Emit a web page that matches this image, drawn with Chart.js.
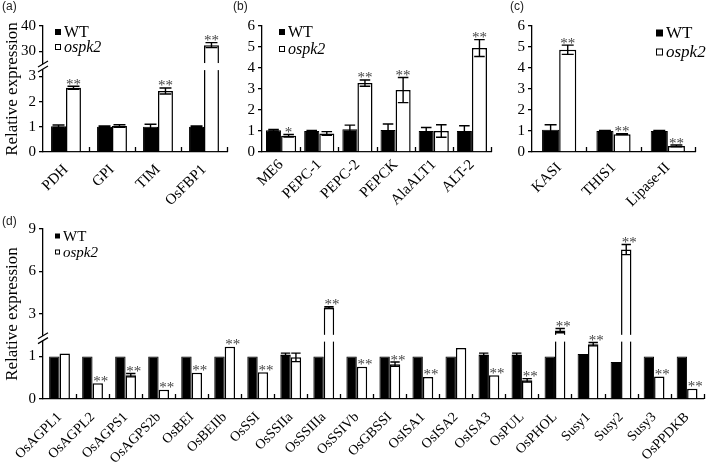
<!DOCTYPE html>
<html><head><meta charset="utf-8">
<script src="https://cdn.jsdelivr.net/npm/chart.js@4.4.0/dist/chart.umd.min.js"></script>
<style>
html,body{margin:0;padding:0;background:#fff}
body{width:709px;height:465px;overflow:hidden;position:relative}
canvas{position:absolute}
</style></head><body>
<canvas id="ca" width="232" height="230" style="left:0;top:0"></canvas>
<canvas id="cb" width="268" height="230" style="left:230px;top:0"></canvas>
<canvas id="cc" width="204" height="230" style="left:505px;top:0"></canvas>
<canvas id="cd" width="709" height="251" style="left:0;top:214px"></canvas>
<script>
// ---------- DATA ----------
const seriesNames = ['WT', 'ospk2'];

const aCategories = ['PDH', 'GPI', 'TIM', 'OsFBP1'];
const aWT = [1.02, 1.0, 1.0, 1.0];
const aWTErr = [0.05, 0.03, 0.1, 0.03];
const aMut = [2.55, 1.03, 2.42, 32.4];
const aMutErr = [0.06, 0.05, 0.12, 1.0];
const aSig = ['**', '', '**', '**'];
const aTickValues = [0, 1, 2, 3, 30, 40];
const aTickLabels = ['0', '1', '2', '3', '30', '40'];

const bCategories = ['ME6', 'PEPC-1', 'PEPC-2', 'PEPCK', 'AlaALT1', 'ALT-2'];
const bWT = [1.03, 1.0, 1.08, 1.05, 1.0, 1.0];
const bWTErr = [0.04, 0.03, 0.2, 0.28, 0.17, 0.25];
const bMut = [0.77, 0.88, 3.28, 2.95, 1.0, 4.95];
const bMutErr = [0.06, 0.09, 0.15, 0.6, 0.3, 0.4];
const bSig = ['*', '', '**', '**', '', '**'];

const cCategories = ['KASI', 'THIS1', 'Lipase-II'];
const cWT = [1.06, 1.0, 1.0];
const cWTErr = [0.24, 0.03, 0.03];
const cMut = [4.87, 0.85, 0.29];
const cMutErr = [0.22, 0.02, 0.04];
const cSig = ['**', '**', '**'];

const dCategories = ['OsAGPL1', 'OsAGPL2', 'OsAGPS1', 'OsAGPS2b', 'OsBEI', 'OsBEIIb', 'OsSSI', 'OsSSIIa', 'OsSSIIIa', 'OsSSIVb', 'OsGBSSI', 'OsISA1', 'OsISA2', 'OsISA3', 'OsPUL', 'OsPHOL', 'Susy1', 'Susy2', 'Susy3', 'OsPPDKB'];
const dWT = [1.0, 1.0, 1.0, 1.0, 1.0, 1.0, 1.0, 1.05, 1.0, 1.0, 1.0, 1.0, 1.0, 1.05, 1.05, 1.0, 1.06, 0.87, 1.0, 1.0];
const dWTErr = [0, 0, 0, 0, 0, 0, 0, 0.03, 0, 0, 0, 0, 0, 0.03, 0.03, 0, 0, 0, 0, 0];
const dMut = [1.07, 0.37, 0.56, 0.22, 0.62, 1.23, 0.63, 0.98, 3.45, 0.76, 0.82, 0.52, 1.2, 0.56, 0.44, 1.83, 1.29, 7.55, 0.53, 0.24];
const dMutErr = [0, 0, 0.04, 0, 0, 0, 0, 0.1, 0.06, 0, 0.05, 0, 0, 0, 0.04, 0.15, 0.04, 0.36, 0, 0];
const dSig = ['', '**', '**', '**', '**', '**', '**', '', '**', '**', '**', '**', '', '**', '**', '**', '**', '**', '**', '**'];
const dTickValues = [0, 1, 3, 6, 9];
const dTickLabels = ['0', '1', '3', '6', '9'];

// ---------- broken-axis mappings ----------
const mapA = v => (v <= 3.4 ? v : 4 + (v - 30) / 10);
const mapD = v => (v <= 1.5 ? v : 2 + (v - 3) / 3);
const mapLin = v => v;

const SERIF = '"Liberation Serif", "Times New Roman", serif';

const decor = {
  id: 'decor',
  afterDatasetsDraw(chart, args, o) {
    const ctx = chart.ctx, xs = chart.scales.x, ys = chart.scales.y, ca = chart.chartArea;
    ctx.save();
    // gaps in broken bars
    if (o.gap) {
      const gTop = ys.getPixelForValue(o.gap[1]), gBot = ys.getPixelForValue(o.gap[0]);
      chart.data.datasets.forEach((ds, di) => {
        chart.getDatasetMeta(di).data.forEach((bar, i) => {
          if (ds.data[i] > o.gap[1]) {
            ctx.fillStyle = '#fff';
            ctx.fillRect(bar.x - bar.width / 2 - 2, gTop, bar.width + 4, gBot - gTop);
          }
        });
      });
    }
    // error bars
    ctx.strokeStyle = '#000';
    ctx.lineWidth = 1.4;
    o.raw.forEach((vals, di) => {
      const meta = chart.getDatasetMeta(di);
      vals.forEach((v, i) => {
        const e = o.err[di][i];
        if (!e) return;
        const bar = meta.data[i];
        const yt = ys.getPixelForValue(o.map(v + e)), yb = ys.getPixelForValue(o.map(v - e));
        const hw = bar.width * o.cap;
        ctx.beginPath();
        ctx.moveTo(bar.x, yt); ctx.lineTo(bar.x, yb);
        ctx.moveTo(bar.x - hw, yt); ctx.lineTo(bar.x + hw, yt);
        ctx.moveTo(bar.x - hw, yb); ctx.lineTo(bar.x + hw, yb);
        ctx.stroke();
      });
    });
    // significance stars
    ctx.font = o.starSize + 'px ' + SERIF;
    ctx.fillStyle = '#444';
    ctx.textAlign = 'center';
    ctx.textBaseline = 'alphabetic';
    const meta1 = chart.getDatasetMeta(1);
    o.sig.forEach((s, i) => {
      if (!s) return;
      const bar = meta1.data[i];
      const v = o.raw[1][i], e = o.err[1][i];
      const top = Math.min(bar.y, ys.getPixelForValue(o.map(v + e)));
      ctx.fillText(s, bar.x + o.starDx, top - o.starGap + o.starSize * 0.3);
    });
    // x tick marks (between categories, pointing up)
    const n = chart.data.labels.length;
    const cw = (xs.right - xs.left) / n;
    ctx.strokeStyle = '#000';
    ctx.lineWidth = 1.3;
    ctx.beginPath();
    for (let i = 1; i <= n; i++) {
      const bx = Math.round(xs.left + i * cw) + 0.5;
      ctx.moveTo(bx, ca.bottom); ctx.lineTo(bx, ca.bottom - 5);
    }
    ctx.stroke();
    // axis break symbol
    if (o.gap) {
      const gTop = ys.getPixelForValue(o.gap[1]), gBot = ys.getPixelForValue(o.gap[0]);
      const L = ca.left;
      ctx.fillStyle = '#fff';
      ctx.fillRect(L - 2, gTop + 1, 4, gBot - gTop - 2);
      ctx.beginPath();
      [gTop + 1, gBot - 1].forEach(yy => { ctx.moveTo(L - 5, yy + 3); ctx.lineTo(L + 5, yy - 3); });
      ctx.lineWidth = 1.2;
      ctx.stroke();
    }
    // legend
    const lg = o.legend;
    ctx.textAlign = 'left';
    ctx.textBaseline = 'middle';
    seriesNames.forEach((name, k) => {
      const cy = lg.y + k * lg.dy;
      if (k === 0) { ctx.fillStyle = '#000'; ctx.fillRect(lg.x, cy - lg.sq / 2, lg.sq, lg.sq); }
      else { ctx.fillStyle = '#fff'; ctx.fillRect(lg.x, cy - lg.sq / 2, lg.sq, lg.sq); ctx.strokeStyle = '#000'; ctx.lineWidth = 1; ctx.strokeRect(lg.x + 0.5, cy - lg.sq / 2 + 0.5, lg.sq - 1, lg.sq - 1); }
      ctx.fillStyle = '#000';
      ctx.font = (k === 1 ? 'italic ' : '') + lg.fs + 'px ' + SERIF;
      ctx.fillText(name, lg.x + lg.sq + 3, cy + 1);
    });
    // panel label
    ctx.font = '12px "Liberation Sans", Arial, sans-serif';
    ctx.fillStyle = '#222';
    ctx.textBaseline = 'top';
    ctx.fillText(o.label.text, o.label.x, o.label.y);
    ctx.restore();
  }
};

function makeChart(id, cfg) {
  const ticksCfg = cfg.tickValues
    ? {
        afterBuildTicks: s => { s.ticks = cfg.tickValues.map(v => ({ value: cfg.map(v) })); },
        ticks: { callback: (val, idx) => cfg.tickLabels[idx], font: { family: SERIF, size: 15 }, color: '#000', padding: 3 }
      }
    : { ticks: { stepSize: 1, font: { family: SERIF, size: 15 }, color: '#000', padding: 3 } };
  return new Chart(document.getElementById(id), {
    type: 'bar',
    data: {
      labels: cfg.categories,
      datasets: [
        { label: seriesNames[0], data: cfg.wt.map(cfg.map), backgroundColor: '#000', borderColor: '#000', borderWidth: 1,
          categoryPercentage: cfg.catPct, barPercentage: 1 },
        { label: seriesNames[1], data: cfg.mut.map(cfg.map), backgroundColor: '#fff', borderColor: '#000', borderWidth: 1.5,
          categoryPercentage: cfg.catPct, barPercentage: 1 }
      ]
    },
    options: {
      responsive: false,
      animation: false,
      layout: { padding: cfg.padding },
      plugins: {
        legend: { display: false },
        tooltip: { enabled: false },
        decor: {
          raw: [cfg.wt, cfg.mut], err: [cfg.wtErr, cfg.mutErr], sig: cfg.sig, map: cfg.map,
          gap: cfg.gap, cap: cfg.cap, starSize: 15, starDx: cfg.starDx, starGap: 2,
          legend: cfg.legend, label: cfg.label
        }
      },
      scales: {
        x: {
          grid: { display: false, drawTicks: false },
          border: { color: '#000', width: 1.3 },
          ticks: { minRotation: 45, maxRotation: 45, autoSkip: false, font: { family: SERIF, size: cfg.xfs }, color: '#000', padding: cfg.xpad },
          afterFit: s => { s.height = cfg.xHeight; }
        },
        y: Object.assign({
          min: 0, max: cfg.ymax,
          grid: { drawOnChartArea: false, drawTicks: true, tickLength: 4, color: '#000', lineWidth: 1.3 },
          border: { color: '#000', width: 1.3 },
          title: cfg.ytitle ? { display: true, text: 'Relative expression', font: { family: SERIF, size: 17 }, color: '#000', padding: { top: 2, bottom: 0 } } : { display: false },
          afterFit: s => { s.width = cfg.yWidth; }
        }, ticksCfg)
      }
    },
    plugins: [decor]
  });
}

makeChart('ca', {
  categories: aCategories, wt: aWT, mut: aMut, wtErr: aWTErr, mutErr: aMutErr, sig: aSig,
  map: mapA, tickValues: aTickValues, tickLabels: aTickLabels, ymax: 5, gap: [3.25, 3.53],
  catPct: 0.65, cap: 0.4, starDx: 0, xfs: 15, xpad: 9, xHeight: 78, yWidth: 43, ytitle: true,
  padding: { left: 0, top: 26, right: 5, bottom: 0 },
  legend: { x: 55, y: 32, dy: 15, sq: 6, fs: 16 }, label: { text: '(a)', x: 2, y: 1 }
});
makeChart('cb', {
  categories: bCategories, wt: bWT, mut: bMut, wtErr: bWTErr, mutErr: bMutErr, sig: bSig,
  map: mapLin, ymax: 6, gap: null,
  catPct: 0.79, cap: 0.35, starDx: 0, xfs: 15, xpad: 4, xHeight: 78, yWidth: 32, ytitle: false,
  padding: { left: 0, top: 26, right: 7, bottom: 0 },
  legend: { x: 49, y: 32, dy: 17, sq: 6, fs: 16 }, label: { text: '(b)', x: 3, y: 1 }
});
makeChart('cc', {
  categories: cCategories, wt: cWT, mut: cMut, wtErr: cWTErr, mutErr: cMutErr, sig: cSig,
  map: mapLin, ymax: 6, gap: null,
  catPct: 0.63, cap: 0.35, starDx: 0, xfs: 15, xpad: 7, xHeight: 78, yWidth: 27, ytitle: false,
  padding: { left: 0, top: 26, right: 14, bottom: 0 },
  legend: { x: 151, y: 33, dy: 19, sq: 7, fs: 17 }, label: { text: '(c)', x: 5, y: 1 }
});
makeChart('cd', {
  categories: dCategories, wt: dWT, mut: dMut, wtErr: dWTErr, mutErr: dMutErr, sig: dSig,
  map: mapD, tickValues: dTickValues, tickLabels: dTickLabels, ymax: 4, gap: [1.35, 1.51],
  catPct: 0.63, cap: 0.45, starDx: 3, xfs: 14, xpad: 10, xHeight: 66, yWidth: 43, ytitle: true,
  padding: { left: 0, top: 15, right: 1, bottom: 0 },
  legend: { x: 55, y: 22, dy: 16, sq: 5, fs: 15 }, label: { text: '(d)', x: 2, y: 2 }
});
</script>
</body></html>
